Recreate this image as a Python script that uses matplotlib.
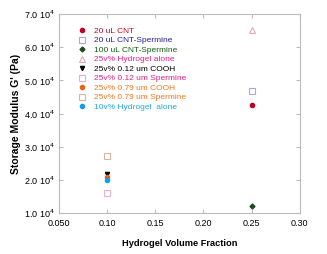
import matplotlib
matplotlib.use('Agg')
import matplotlib.pyplot as plt

plt.rcParams['font.family'] = ['Liberation Sans', 'DejaVu Sans']

labels = ['20 uL CNT', '20 uL CNT-Spermine', '100 uL CNT-Spermine',
          '25v% Hydrogel alone', '25v% 0.12 um COOH', '25v% 0.12 um Spermine',
          '25v% 0.79 um COOH', '25v% 0.79 um Spermine', '10v% Hydrogel  alone']
x_vals = [0.25, 0.25, 0.25, 0.25, 0.10, 0.10, 0.10, 0.10, 0.10]
g_vals = [4.27e4, 4.67e4, 1.22e4, 6.53e4, 2.17e4, 1.62e4, 2.10e4, 2.72e4, 2.00e4]
markers = ['o', 's', 'D', '^', 'v', 's', 'o', 's', 'o']
filled = [True, False, True, False, True, False, True, False, True]
marker_colors = ['#c00020', '#a8a8e0', '#1e4a1e', '#e8a8b0', '#000000',
                 '#e8b0c8', '#f06010', '#d8b8a0', '#10a0e0']
text_colors = ['#d00020', '#2020a0', '#106010', '#e0208a', '#000000',
               '#e0208a', '#f07820', '#f07820', '#20a8e0']

yticks = [1e4, 2e4, 3e4, 4e4, 5e4, 6e4, 7e4]
ytick_labels = [r'%.1f 10$^4$' % (v / 1e4) for v in yticks]
xticks = [0.05, 0.10, 0.15, 0.20, 0.25, 0.30]
xtick_labels = ['0.050', '0.10', '0.15', '0.20', '0.25', '0.30']

fig = plt.figure(figsize=(3.27, 2.54), dpi=100)
ax = fig.add_axes([0.180, 0.161, 0.737, 0.784])

for i in range(len(labels)):
    ms = 2.5 if markers[i] == 'D' else 3
    if filled[i]:
        ax.plot(x_vals[i], g_vals[i], linestyle='none', marker=markers[i],
                markersize=ms, color=marker_colors[i], label=labels[i])
    else:
        ax.plot(x_vals[i], g_vals[i], linestyle='none', marker=markers[i],
                markersize=4, markerfacecolor='none', markeredgewidth=0.8,
                markeredgecolor=marker_colors[i], label=labels[i])

ax.set_xlim(0.05, 0.30)
ax.set_ylim(1e4, 7e4)
ax.set_xticks(xticks)
ax.set_xticklabels(xtick_labels, fontsize=6.5)
ax.set_yticks(yticks)
ax.set_yticklabels(ytick_labels, fontsize=6.5)
ax.tick_params(direction='in', length=3, color='#bbbbbb', top=True, right=True, pad=3)
ax.tick_params(axis='x', pad=4.5)
for s in ax.spines.values():
    s.set_color('#bbbbbb')
    s.set_linewidth(0.8)

ax.set_xlabel('Hydrogel Volume Fraction', fontsize=6.7, fontweight='bold', labelpad=8)
ax.set_ylabel("Storage Modulus G' (Pa)", fontsize=7.5, fontweight='bold', labelpad=2)

leg = ax.legend(loc='upper left', bbox_to_anchor=(0.062, 0.955), frameon=False,
                fontsize=6, labelspacing=0.2, handletextpad=0.9, handlelength=1.0,
                borderpad=0, labelcolor=text_colors)

fig.savefig('out.png', dpi=100)
